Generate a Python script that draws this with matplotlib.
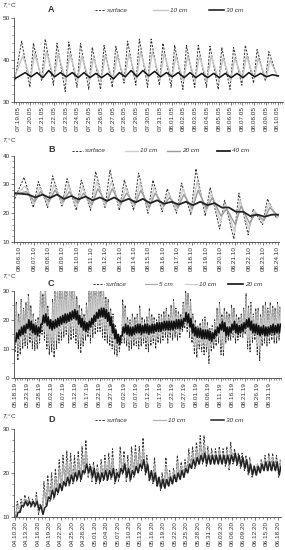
import numpy as np
import pandas as pd
import matplotlib
matplotlib.use("Agg")
import matplotlib.pyplot as plt
from matplotlib.lines import Line2D
from matplotlib.ticker import MultipleLocator

plt.rcParams["font.family"] = ["Liberation Sans", "DejaVu Sans"]
plt.rcParams["mathtext.fontset"] = "custom"
plt.rcParams["mathtext.it"] = "Liberation Sans:italic"

# ---- panel A: 07.19.05 - 08.10.05, daily max / min
a_labels = pd.date_range("2005-07-19", "2005-08-10").strftime("%m.%d.%y")
a_surf_max = [44.5, 44.0, 45.0, 44.0, 44.3, 44.0, 43.0, 43.5, 43.3, 44.5, 45.0,
              45.0, 44.0, 43.5, 43.5, 43.5, 43.3, 43.0, 43.0, 43.5, 42.5, 42.0]
a_surf_min = [33.5, 35.0, 34.0, 32.5, 33.5, 33.0, 33.0, 33.5, 34.5, 34.0, 33.5,
              34.0, 33.5, 33.0, 33.5, 33.5, 33.0, 33.0, 34.0, 34.5, 35.0, 36.0]
a_10_max = [41.0, 41.5, 42.0, 41.5, 41.5, 41.0, 40.5, 41.0, 41.0, 41.5, 42.0,
            42.0, 41.5, 41.0, 41.0, 41.0, 41.0, 40.5, 40.5, 41.0, 40.5, 40.0]
a_10_min = [35.5, 35.5, 35.5, 35.0, 35.0, 35.0, 35.0, 35.0, 35.5, 35.5, 35.5,
            35.5, 35.5, 35.0, 35.0, 35.0, 35.0, 35.0, 35.5, 35.5, 35.5, 36.0]
a_30_max = [37.0, 37.0, 37.5, 37.0, 37.0, 37.0, 36.8, 36.8, 37.0, 37.5, 37.5,
            37.3, 37.0, 37.0, 37.0, 36.8, 36.8, 36.8, 36.8, 37.0, 36.8, 36.5]
a_30_min = [36.0, 35.8, 36.0, 36.0, 35.8, 35.8, 35.8, 35.5, 36.0, 36.0, 36.2,
            36.0, 36.0, 35.8, 35.8, 35.8, 35.8, 35.8, 35.8, 36.0, 36.0, 36.2]
a_start = {"surf": 35.0, "10": 36.0, "30": 35.5}

# ---- panel B: 08.06.10 - 08.24.10
b_labels = pd.date_range("2010-08-06", "2010-08-24").strftime("%m.%d.%y")
b_surf_max = [32.5, 31.0, 33.0, 32.0, 31.5, 34.5, 35.0, 31.5, 34.0, 31.5, 28.5,
              30.5, 35.5, 29.0, 24.5, 27.0, 21.5, 25.0]
b_surf_min = [22.0, 22.0, 22.5, 21.0, 21.0, 22.0, 21.0, 21.0, 20.0, 20.5, 20.0,
              19.5, 19.0, 14.5, 11.0, 12.5, 16.0, 18.0]
b_10_max = [29.5, 29.0, 30.0, 29.5, 29.0, 31.0, 31.0, 29.0, 30.5, 29.0, 27.0,
            28.5, 31.0, 27.0, 23.0, 24.5, 21.0, 23.5]
b_10_min = [23.0, 23.0, 23.0, 22.5, 22.0, 22.5, 22.0, 22.0, 21.0, 21.5, 21.0,
            20.5, 20.5, 17.0, 13.5, 14.5, 17.0, 18.5]
b_20_max = [27.5, 27.5, 28.0, 27.5, 27.0, 28.5, 28.5, 27.0, 28.0, 27.0, 25.5,
            26.5, 28.0, 25.5, 21.5, 22.5, 20.0, 22.0]
b_20_min = [24.0, 24.0, 24.0, 23.5, 23.0, 23.5, 23.0, 23.0, 22.0, 22.5, 22.0,
            21.5, 21.5, 19.0, 16.0, 16.5, 17.5, 19.0]
b_40_max = [26.5, 26.5, 26.5, 26.0, 25.8, 25.5, 25.5, 25.0, 25.0, 24.5, 24.0,
            24.0, 24.0, 23.5, 22.0, 20.5, 19.5, 19.5]
b_40_min = [25.5, 25.3, 25.0, 24.8, 24.5, 24.3, 24.0, 23.8, 23.5, 23.3, 23.0,
            22.8, 22.8, 22.0, 20.5, 19.0, 18.8, 19.5]
b_start = {"surf": 25.0, "10": 26.0, "20": 26.5, "40": 27.0}

# ---- panel C: 05.18.19 - 09.04.19 (daily)
c_labels = pd.date_range("2019-05-18", periods=22, freq="5D").strftime("%m.%d.%y")
c_surf_max = [26, 22, 27, 24, 26, 29, 25, 22, 20, 21,
              31, 29, 32, 25, 20, 27, 33, 32, 34, 33,
              33, 34, 32, 33, 31, 28, 25, 24, 22, 26,
              33, 34, 33, 32, 34, 33, 31, 28, 27, 24,
              22, 18, 15, 14, 27, 25, 21, 20, 22, 21,
              22, 25, 21, 20, 21, 24, 22, 21, 20, 22,
              22, 23, 24, 22, 25, 27, 24, 23, 22, 26,
              30, 29, 27, 22, 20, 18, 19, 20, 21, 19,
              17, 18, 20, 24, 26, 22, 24, 23, 22, 25,
              24, 22, 21, 22, 24, 29, 25, 26, 22, 24,
              24, 22, 25, 26, 24, 26, 25, 24, 26, 25]
c_surf_min = [9, 6, 8, 10, 11, 10, 12, 10, 9.5, 10,
              12, 15, 13, 10, 8, 9, 7, 10, 12, 13,
              14, 15, 12, 13, 14, 12, 10, 8.5, 11, 13,
              14, 12, 14, 15, 16, 16, 14, 13, 12, 11,
              10, 8, 7.5, 9, 12, 12, 11, 9.5, 10, 11,
              11, 10, 11, 12, 10, 9, 11, 12, 10, 12,
              12, 13, 14, 12, 14, 13, 14, 13, 14, 16,
              17, 16, 14, 12, 8, 7, 10, 9, 8, 9,
              5, 9, 10, 11, 12, 8, 7.5, 12, 13, 13,
              14, 12, 13, 14, 14, 15, 10, 9, 12, 13,
              8, 6, 11, 12, 11, 12, 13, 12, 12, 13]
c_5_max = [25, 21, 26, 23, 25, 28, 24, 21, 19, 20,
           30, 28, 31, 24, 19, 26, 32, 31, 33, 32,
           32, 33, 31, 32, 30, 27, 24, 23, 21, 25,
           32, 33, 32, 31, 33, 32, 30, 27, 26, 23,
           21, 17, 15, 14, 25, 24, 20, 19, 21, 20,
           21, 24, 20, 19, 20, 23, 21, 20, 19, 21,
           21, 22, 23, 21, 24, 26, 23, 22, 21, 25,
           29, 28, 26, 21, 19, 18, 18, 19, 20, 18,
           16, 17, 19, 23, 25, 21, 23, 22, 21, 24,
           23, 21, 20, 21, 23, 28, 24, 25, 21, 23,
           23, 21, 24, 25, 23, 25, 24, 23, 25, 24]
c_5_min = [12, 10, 11, 13, 14, 13, 15, 13, 12.5, 13,
           15, 17, 16, 13, 11, 12, 10, 13, 15, 16,
           16, 17, 15, 16, 17, 15, 13, 12, 14, 15,
           16, 15, 17, 18, 18, 18, 17, 16, 15, 14,
           13, 11, 10, 11, 14, 14, 13, 12, 13, 13,
           13, 13, 14, 14, 13, 12, 13, 14, 13, 14,
           14, 15, 16, 15, 16, 15, 16, 15, 16, 18,
           19, 18, 16, 14, 11, 10, 12, 11, 11, 11,
           8, 11, 12, 13, 14, 11, 10, 14, 15, 15,
           15, 14, 15, 15, 15, 16, 13, 12, 14, 15,
           11, 9, 13, 14, 13, 14, 15, 14, 14, 15]
c_10_max = [21, 19, 22, 20, 21, 23, 21, 19, 18, 18,
            25, 24, 25, 21, 18, 22, 26, 27, 27, 27,
            27, 28, 28, 27, 27, 24, 22, 21, 19, 22,
            26, 27, 28, 28, 28, 28, 27, 24, 23, 21,
            19, 16, 14, 14, 21, 21, 19, 18, 19, 18,
            19, 21, 19, 18, 19, 20, 19, 19, 18, 19,
            19, 20, 21, 19, 21, 22, 21, 20, 20, 22,
            25, 25, 23, 20, 18, 17, 17, 17, 18, 17,
            15, 16, 17, 20, 22, 19, 20, 20, 19, 21,
            21, 19, 19, 19, 20, 24, 21, 22, 19, 20,
            20, 19, 21, 22, 20, 22, 21, 20, 22, 21]
c_10_min = [13, 12, 13, 14, 15, 15, 16, 15, 14, 14,
            16, 18, 17, 15, 13, 14, 13, 15, 16, 17,
            18, 18, 17, 18, 18, 17, 15, 14, 15, 16,
            17, 17, 18, 19, 19, 20, 19, 18, 17, 15,
            14, 12, 11, 12, 15, 15, 14, 13, 14, 14,
            14, 14, 15, 15, 14, 14, 14, 15, 14, 15,
            15, 16, 17, 16, 17, 16, 17, 16, 17, 19,
            19, 19, 17, 15, 12, 12, 13, 12, 12, 12,
            10, 12, 13, 14, 15, 13, 12, 15, 15, 16,
            16, 15, 16, 16, 16, 17, 14, 13, 15, 16,
            12, 11, 14, 15, 14, 15, 16, 15, 15, 16]
c_20_max = [15.5, 16.5, 17.5, 18, 18.5, 20, 19.5, 18.5, 18, 17.5,
            18.5, 21.5, 22, 21, 20, 19.5, 20, 20.5, 21, 21.5,
            22, 22, 22.5, 23, 23.5, 23, 21.5, 20.5, 19.5, 19,
            19.5, 20.5, 21.5, 22.5, 23.5, 24, 24, 23.5, 22.5, 21,
            18.5, 16.5, 15, 14.5, 17.5, 18.5, 18, 17.5, 17.5, 18,
            18.5, 18.5, 18, 18.5, 18.5, 18, 18.5, 18.5, 19, 19,
            19, 19.5, 19.5, 19.5, 19.5, 19.5, 20, 20, 20, 20.5,
            22.5, 22, 20.5, 18.5, 17.5, 17, 17, 16.5, 16.5, 16.5,
            16, 15.5, 16.5, 17.5, 18.5, 19.5, 19, 17.5, 17.5, 18.5,
            19.5, 18.5, 18, 18.5, 19, 20, 20.5, 19.5, 18.5, 18.5,
            18, 17.5, 18, 17.5, 17.5, 18, 18.5, 18, 18.5, 18.5]
c_20_min = [12.5, 13.5, 14.5, 15, 15.5, 17, 16.5, 15.5, 15, 14.5,
            15.5, 18.5, 19, 18, 17, 16.5, 17, 17.5, 18, 18.5,
            19, 19, 19.5, 20, 20.5, 20, 18.5, 17.5, 16.5, 16,
            16.5, 17.5, 18.5, 19.5, 20.5, 21, 21, 20.5, 19.5, 18,
            15.5, 13.5, 12, 11.5, 14.5, 15.5, 15, 14.5, 14.5, 15,
            15.5, 15.5, 15, 15.5, 15.5, 15, 15.5, 15.5, 16, 16,
            16, 16.5, 16.5, 16.5, 16.5, 16.5, 17, 17, 17, 17.5,
            19.5, 19, 17.5, 15.5, 14.5, 14, 14, 13.5, 13.5, 13.5,
            13, 12.5, 13.5, 14.5, 15.5, 16.5, 16, 14.5, 14.5, 15.5,
            16.5, 15.5, 15, 15.5, 16, 17, 17.5, 16.5, 15.5, 15.5,
            15, 14.5, 15, 14.5, 14.5, 15, 15.5, 15, 15.5, 15.5]

# ---- panel D: 04.10.20 - 06.18.20 (daily)
d_labels = pd.date_range("2020-04-10", periods=24, freq="3D").strftime("%m.%d.%y")
d_surf_max = [13.5, 14, 15, 14.5, 14, 15.5, 13, 18, 19.5, 20,
              21, 23, 24, 25, 24.5, 24, 25, 26, 27.5, 22,
              22.5, 22, 23, 24, 24.5, 25.5, 21, 26, 25, 24,
              26, 26.5, 26, 28, 24, 20, 23.5, 19, 20, 23.5,
              20.5, 21, 24, 22.5, 23, 25.5, 26, 27, 28.5, 28.5,
              26, 25.5, 25.5, 26, 25.5, 26, 27, 25.5, 24.5, 24.5,
              24, 23.5, 21.5, 22, 23, 24, 24.5, 24.5, 24, 23]
d_surf_min = [10, 11, 12, 12.5, 12, 12, 10.5, 11, 12.5, 13.5,
              14, 15, 16, 17, 17, 17.5, 18, 18, 19.5, 19,
              18, 17.5, 17.5, 18, 18, 18.5, 17.5, 18, 19.5, 18,
              18, 19, 20, 20.5, 19.5, 18, 17.5, 17, 16, 16.5,
              17, 17.5, 18, 18.5, 19, 20, 21, 21, 22, 22,
              21.5, 22, 22, 22, 22, 21.5, 20.5, 22, 21.5, 21,
              20.5, 19.5, 19, 19.5, 20, 20.5, 20.5, 20.5, 20.5, 19]
d_10_max = [12.5, 13, 14, 14, 13.5, 14.5, 12.5, 16, 17.5, 18,
            19, 21, 22, 22.5, 22.5, 22, 23, 23.5, 25, 21.5,
            21.5, 21, 22, 22.5, 23, 23.5, 20.5, 24, 23.5, 22.5,
            24, 24.5, 24.5, 25.5, 22.5, 19.5, 22, 18.5, 19, 21.5,
            20, 20.5, 22.5, 21.5, 22, 24, 24.5, 25.5, 26.5, 26.5,
            25, 24.5, 24.5, 25, 24.5, 25, 25.5, 24.5, 24, 23.5,
            23.5, 23, 21.5, 22, 22.5, 23, 23.5, 23.5, 23, 22.5]
d_10_min = [10.5, 11.5, 12.5, 13, 12.5, 12.5, 11, 11.5, 13, 14,
            14.5, 15.5, 16.5, 17.5, 17.5, 18, 18.5, 18.5, 20, 19.5,
            18.5, 18, 18, 18.5, 18.5, 19, 18, 18.5, 20, 18.5,
            18.5, 19.5, 20.5, 21, 20, 18.5, 18, 17.5, 16.5, 17,
            17.5, 18, 18.5, 19, 19.5, 20.5, 21.5, 21.5, 22.5, 22.5,
            22, 22.5, 22.5, 22.5, 22.5, 22, 21, 22.5, 22, 21.5,
            21, 20, 19.5, 20, 20.5, 21, 21, 21, 21, 19.5]
d_30_max = [11, 12.5, 13.5, 13.5, 13.5, 13.5, 12.5, 12, 14.5, 16,
            16.5, 17.5, 18, 19, 19.5, 20, 20.5, 20.5, 22, 21.5,
            21, 20, 20, 20.5, 20.5, 21, 20, 21, 22, 21,
            20.5, 21.5, 22, 23, 22, 20.5, 20, 19, 18.5, 18.5,
            19, 19.5, 20, 20.5, 21, 22, 23, 23.5, 24, 24.5,
            24, 24, 24, 24, 24, 24, 24, 24.5, 24, 23.5,
            23, 22, 21.5, 21.5, 22, 22.5, 22.5, 22.5, 22.5, 21.5]
d_30_min = [9.5, 11, 12.5, 12.5, 12.5, 12.5, 11.5, 10.5, 12.5, 14,
            14.5, 15.5, 16, 17, 17.5, 18, 18.5, 18.5, 20, 20,
            19, 18, 18, 18.5, 18.5, 19, 18, 19, 20, 19,
            18.5, 19.5, 20, 21, 20, 18.5, 18, 17, 16.5, 16.5,
            17, 17.5, 18, 18.5, 19, 20, 21, 21.5, 22, 22.5,
            22, 22, 22, 22, 22, 22, 22, 22.5, 22, 21.5,
            21, 20, 19.5, 19.5, 20, 20.5, 20.5, 20.5, 20.5, 19.5]

W, H = 285, 550
DASH = (0, (2.2, 1.4))
TXT = "#333333"
FS = 4.6


def daily(mx, mn, t_max, t_min, start=None, t0=None):
    # one maximum and one minimum per day, joined in time order
    x = list(np.arange(len(mx)) + t_max) + list(np.arange(len(mn)) + t_min)
    y = list(mx) + list(mn)
    if start is not None:
        x.append(t0)
        y.append(start)
    order = np.argsort(x)
    return np.array(x)[order], np.array(y)[order]


def make_axes(top, bottom, right):
    return fig.add_axes([14 / W, 1 - bottom / H, (right - 14) / W, (bottom - top) / H])


def style(ax, ylim, ystep, yminor, xlim, xstep, labels, xminor):
    ax.set_ylim(*ylim)
    ax.set_yticks(np.arange(ylim[0], ylim[1] + 0.1, ystep))
    ax.yaxis.set_minor_locator(MultipleLocator(yminor))
    ax.set_xlim(*xlim)
    ax.set_xticks(np.arange(len(labels)) * xstep)
    ax.set_xticklabels(labels, rotation=90)
    ax.xaxis.set_minor_locator(MultipleLocator(xminor))
    for s in ("top", "right"):
        ax.spines[s].set_visible(False)
    for s in ("left", "bottom"):
        ax.spines[s].set_linewidth(0.6)
        ax.spines[s].set_color("#444444")
    ax.tick_params(which="major", direction="out", length=2, width=0.5,
                   labelsize=FS, pad=1, colors="#444444", labelcolor=TXT)
    ax.tick_params(which="minor", direction="out", length=1.2, width=0.4,
                   colors="#444444")


def heading(y_label, letter, y_letter, y_leg, items):
    fig.text(2 / W, 1 - y_label / H, r"$T$,°C", fontsize=FS, color=TXT,
             va="center", ha="left")
    fig.text(48 / W, 1 - y_letter / H, letter, fontsize=6.5, fontweight="bold",
             color=TXT, va="center", ha="left")
    yy = 1 - y_leg / H
    for x0, x1, text, kw in items:
        fig.add_artist(Line2D([x0 / W, x1 / W], [yy, yy], transform=fig.transFigure, **kw))
        fig.text((x1 + 2) / W, yy, text, fontsize=FS, style="italic", color=TXT,
                 va="center", ha="left")


fig = plt.figure(figsize=(W / 100, H / 100), dpi=100)

# A
sA = dict(color="#333333", lw=0.7, ls=DASH)
tA = dict(color="#c4c4c4", lw=1.0)
kA = dict(color="#111111", lw=1.1)
ax = make_axes(18, 102, 283)
ax.plot(*daily(a_surf_max, a_surf_min, 0.25, 0.95, a_start["surf"], -0.35), **sA)
ax.plot(*daily(a_10_max, a_10_min, 0.35, 1.0, a_start["10"], -0.35), **tA)
ax.plot(*daily(a_30_max, a_30_min, 0.55, 1.05, a_start["30"], -0.35), **kA)
style(ax, (30, 50), 10, 2, (-0.4, 22.45), 1, a_labels, 0.2)
heading(6, "A", 10, 10, [(95, 105, "surface", sA), (153, 168, "10 cm", tA),
                         (209, 224, "30 cm", kA)])

# B
tB = dict(color="#cfcfcf", lw=1.0)
mB = dict(color="#9a9a9a", lw=1.0)
kB = dict(color="#222222", lw=1.3)
ax = make_axes(155.7, 242, 279)
ax.plot(*daily(b_surf_max, b_surf_min, 0.3, 0.95, b_start["surf"], -0.35), **sA)
ax.plot(*daily(b_10_max, b_10_min, 0.38, 1.0, b_start["10"], -0.35), **tB)
ax.plot(*daily(b_20_max, b_20_min, 0.45, 1.05, b_start["20"], -0.35), **mB)
ax.plot(*daily(b_40_max, b_40_min, 0.6, 1.1, b_start["40"], -0.35), **kB)
style(ax, (10, 40), 10, 2, (-0.4, 18.1), 1, b_labels, 0.2)
heading(141, "B", 150, 150.5, [(72, 83, "surface", sA), (125, 138, "10 cm", tB),
                              (167, 180, "20 cm", mB), (217, 230, "40 cm", kB)])

# C
fC = dict(color="#a8a8a8", lw=0.8)
tC = dict(color="#cccccc", lw=0.8)
kC = dict(color="#111111", lw=1.2)
ax = make_axes(290.7, 378, 281)
ax.plot(*daily(c_surf_max, c_surf_min, 0.55, 0.2), **sA)
ax.plot(*daily(c_5_max, c_5_min, 0.6, 0.25), **fC)
ax.plot(*daily(c_10_max, c_10_min, 0.65, 0.3), **tC)
ax.plot(*daily(c_20_max, c_20_min, 0.75, 0.35), **kC)
style(ax, (0, 30), 10, 5, (-0.4, 110), 5, c_labels, 1)
heading(276.7, "C", 284, 284, [(93, 104, "surface", sA), (145, 157, "5 cm", fC),
                              (185, 197, "10 cm", tC), (228, 243, "20 cm", kC)])

# D
tD = dict(color="#b0b0b0", lw=0.9)
kD = dict(color="#222222", lw=1.1)
ax = make_axes(429, 516.7, 281)
ax.plot(*daily(d_surf_max, d_surf_min, 0.6, 0.2), **sA)
ax.plot(*daily(d_10_max, d_10_min, 0.65, 0.25), **tD)
ax.plot(*daily(d_30_max, d_30_min, 0.8, 0.35), **kD)
style(ax, (10, 30), 10, 2.5, (-0.25, 69.8), 3, d_labels, 1)
heading(416.7, "D", 420, 420, [(95, 105, "surface", sA), (153, 166, "10 cm", tD),
                              (211, 224, "30 cm", kD)])

fig.savefig("out.png", dpi=100)
